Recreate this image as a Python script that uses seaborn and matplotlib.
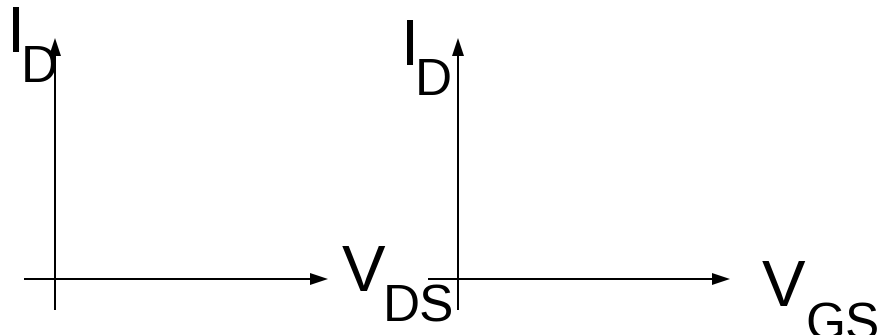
# %% HEADER
# Two empty MOSFET characteristic axes: I_D vs V_DS and I_D vs V_GS

# %% IMPORTS
import matplotlib.pyplot as plt
import seaborn as sns

# %% INPUTS
# Axis frames, in pixel units of the 880x335 canvas
x_axis_start = [24, 428]
x_axis_end = [328, 730]
x_axis_y = [279, 279]
y_axis_x = [55, 458]
y_axis_bottom = [310, 310]
y_axis_top = [38, 38]

# Axis labels (main letter, subscript)
x_labels = [("V", "DS"), ("V", "GS")]
y_labels = [("I", "D"), ("I", "D")]

# Label anchor points (left, baseline) for main letter and subscript
x_label_pos = [((342, 291), (383, 322)), ((762, 306), (805, 339))]
y_label_pos = [((7, 52), (21, 82)), ((401, 65), (415, 95))]

# %% VISUALISE
sns.set_theme(style="white")
plt.rcParams["font.family"] = ["Liberation Sans", "DejaVu Sans"]

fig = plt.figure(figsize=(8.8, 3.35), dpi=100)
ax = fig.add_axes([0, 0, 1, 1])
ax.set_xlim(0, 880)
ax.set_ylim(335, 0)
ax.axis("off")

arrow_style = dict(
    width=2, head_width=12, head_length=18, length_includes_head=True,
    fc="black", ec="none",
)

for i in range(len(x_axis_start)):
    # Horizontal axis arrow
    ax.arrow(
        x_axis_start[i], x_axis_y[i],
        x_axis_end[i] - x_axis_start[i], 0,
        **arrow_style,
    )
    # Vertical axis arrow
    ax.arrow(
        y_axis_x[i], y_axis_bottom[i],
        0, y_axis_top[i] - y_axis_bottom[i],
        **arrow_style,
    )

    # Labels
    for (main, sub), ((mx, my), (sx, sy)) in [
        (x_labels[i], x_label_pos[i]),
        (y_labels[i], y_label_pos[i]),
    ]:
        ax.text(mx, my, main, fontsize=47, ha="left", va="baseline", color="black")
        ax.text(sx, sy, sub, fontsize=37, ha="left", va="baseline", color="black")

fig.savefig("out.png", dpi=100, facecolor="white")
